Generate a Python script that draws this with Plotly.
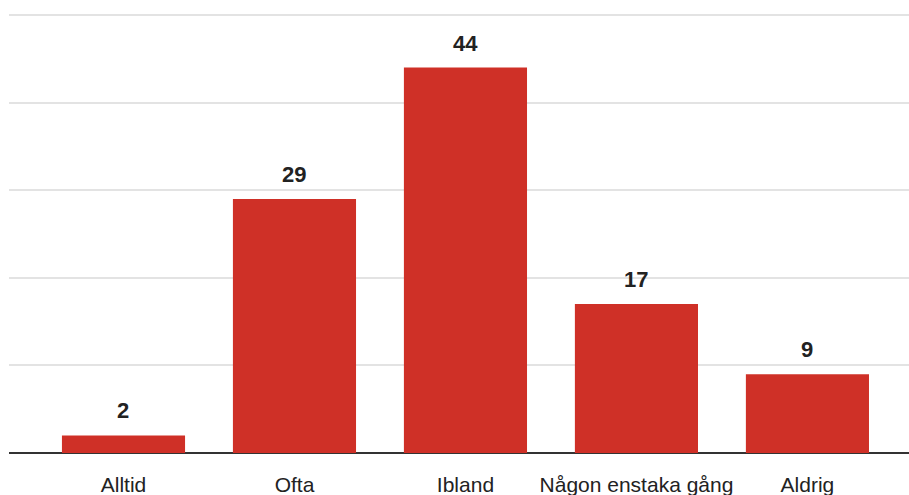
import plotly.graph_objects as go

categories = ["Alltid", "Ofta", "Ibland", "Någon enstaka gång", "Aldrig"]
values = [2, 29, 44, 17, 9]
bar_color = "#cf3027"

fig = go.Figure()
fig.add_trace(go.Bar(x=categories, y=values, marker=dict(color=bar_color, line=dict(width=0)),
                     hoverinfo="skip", cliponaxis=False))

for c, v in zip(categories, values):
    fig.add_annotation(x=c, y=v, text=f"<b>{v}</b>", showarrow=False, yanchor="bottom",
                       yshift=10, font=dict(family="Liberation Sans, Arial", size=22, color="#222222"))

fig.update_layout(
    width=909, height=495,
    margin=dict(l=9, r=0, t=13, b=42, autoexpand=False),
    plot_bgcolor="white", paper_bgcolor="white",
    bargap=0.28, showlegend=False,
    font=dict(family="Liberation Sans, Arial", size=21, color="#222222"),
)
fig.update_xaxes(range=[-0.6696, 4.594], showgrid=False, showline=False, zeroline=False,
                 automargin=False,
                 ticks="outside", ticklen=13, tickcolor="rgba(0,0,0,0)",
                 tickfont=dict(size=21, color="#222222"))
fig.update_yaxes(range=[0, 50.228], dtick=10, showgrid=True, gridcolor="#e3e3e3", gridwidth=1.5,
                 showticklabels=False, zeroline=True, zerolinecolor="#333333", zerolinewidth=1.5,
                 automargin=False, fixedrange=True)

fig.write_html("out.html", config={"displayModeBar": False},
               post_script="document.body.style.margin='0';document.body.style.overflow='hidden';")
